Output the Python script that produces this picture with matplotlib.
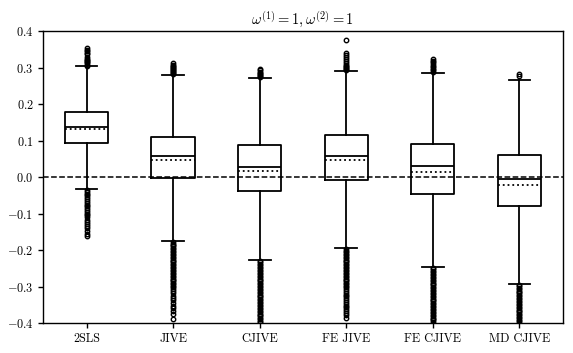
import matplotlib
matplotlib.use("Agg")
import matplotlib.pyplot as plt
from matplotlib.ticker import FuncFormatter

plt.rcParams['font.family'] = ['cmr10', 'DejaVu Sans']
plt.rcParams['mathtext.fontset'] = 'cm'
plt.rcParams['axes.formatter.use_mathtext'] = True
plt.rcParams['axes.unicode_minus'] = False

categories = ["2SLS", "JIVE", "CJIVE", "FE JIVE", "FE CJIVE", "MD CJIVE"]
medians = [0.137, 0.058, 0.028, 0.058, 0.030, -0.004]
means = [0.133, 0.048, 0.016, 0.047, 0.015, -0.022]
q1 = [0.093, -0.002, -0.039, -0.009, -0.045, -0.079]
q3 = [0.178, 0.110, 0.087, 0.115, 0.090, 0.061]
whislo = [-0.033, -0.175, -0.228, -0.195, -0.246, -0.292]
whishi = [0.304, 0.280, 0.273, 0.291, 0.286, 0.268]

fliers_2sls = [0.306, 0.309, 0.312, 0.315, 0.318, 0.321, 0.324, 0.330, 0.337, 0.342, 0.346, 0.350, 0.355,
               -0.035, -0.040, -0.045, -0.050, -0.055, -0.060, -0.065, -0.070, -0.075, -0.080, -0.085,
               -0.090, -0.095, -0.100, -0.105, -0.110, -0.117, -0.122, -0.128, -0.135, -0.140, -0.148,
               -0.155, -0.162]
fliers_jive = [0.282, 0.285, 0.288, 0.291, 0.294, 0.297, 0.300, 0.303, 0.306, 0.309, 0.313,
               -0.178, -0.182, -0.186, -0.190, -0.194, -0.198, -0.202, -0.206, -0.210, -0.214, -0.218,
               -0.222, -0.226, -0.230, -0.234, -0.238, -0.242, -0.246, -0.250, -0.254, -0.258, -0.262,
               -0.266, -0.270, -0.274, -0.278, -0.282, -0.286, -0.290, -0.294, -0.298, -0.302, -0.306,
               -0.312, -0.318, -0.325, -0.332, -0.338, -0.345, -0.352, -0.360, -0.368, -0.375, -0.390]
fliers_cjive = [0.275, 0.278, 0.281, 0.284, 0.287, 0.290, 0.294, 0.298,
                -0.230, -0.234, -0.238, -0.242, -0.246, -0.250, -0.254, -0.258, -0.262, -0.266, -0.270,
                -0.274, -0.278, -0.282, -0.286, -0.290, -0.294, -0.298, -0.302, -0.306, -0.310, -0.314,
                -0.318, -0.322, -0.326, -0.330, -0.334, -0.338, -0.342, -0.346, -0.350, -0.354, -0.358,
                -0.362, -0.366, -0.370, -0.374, -0.378, -0.382, -0.386, -0.390, -0.394, -0.398, -0.405,
                -0.412, -0.420]
fliers_fejive = [0.294, 0.297, 0.300, 0.303, 0.306, 0.309, 0.313, 0.318, 0.324, 0.330, 0.336, 0.342, 0.377,
                 -0.198, -0.202, -0.206, -0.210, -0.214, -0.218, -0.222, -0.226, -0.230, -0.234, -0.238,
                 -0.242, -0.246, -0.250, -0.254, -0.258, -0.262, -0.266, -0.270, -0.274, -0.278, -0.282,
                 -0.286, -0.290, -0.294, -0.298, -0.302, -0.307, -0.312, -0.317, -0.322, -0.327, -0.332,
                 -0.337, -0.342, -0.347, -0.352, -0.357, -0.362, -0.367, -0.372, -0.378, -0.385]
fliers_fecjive = [0.289, 0.293, 0.297, 0.301, 0.305, 0.310, 0.315, 0.320, 0.325,
                  -0.249, -0.253, -0.257, -0.261, -0.265, -0.269, -0.273, -0.277, -0.281, -0.285, -0.289,
                  -0.293, -0.297, -0.301, -0.305, -0.309, -0.313, -0.317, -0.321, -0.325, -0.329, -0.333,
                  -0.337, -0.341, -0.345, -0.349, -0.353, -0.357, -0.361, -0.365, -0.369, -0.373, -0.377,
                  -0.381, -0.385, -0.389, -0.393, -0.397, -0.402, -0.410, -0.420]
fliers_mdcjive = [0.278, 0.282,
                  -0.295, -0.299, -0.303, -0.307, -0.311, -0.315, -0.319, -0.323, -0.327, -0.331, -0.335,
                  -0.339, -0.343, -0.347, -0.351, -0.355, -0.359, -0.363, -0.367, -0.371, -0.375, -0.379,
                  -0.383, -0.387, -0.391, -0.395, -0.399, -0.405, -0.412, -0.420]
fliers = [fliers_2sls, fliers_jive, fliers_cjive, fliers_fejive, fliers_fecjive, fliers_mdcjive]

yticks = [-0.4, -0.3, -0.2, -0.1, 0.0, 0.1, 0.2, 0.3, 0.4]
title = r"$\omega^{(1)} = 1, \omega^{(2)} = 1$"

stats = []
for i, name in enumerate(categories):
    stats.append(dict(label=name, med=medians[i], mean=means[i], q1=q1[i], q3=q3[i],
                      whislo=whislo[i], whishi=whishi[i], fliers=fliers[i]))

fig = plt.figure(figsize=(5.73, 3.53), dpi=100)
ax = fig.add_axes([0.0755, 0.085, 0.9065, 0.826])

lw = 1.3
ax.bxp(stats, positions=range(1, len(categories) + 1), widths=0.5, capwidths=0.25,
       showmeans=True, meanline=True,
       boxprops=dict(color='black', linewidth=lw),
       whiskerprops=dict(color='black', linewidth=lw),
       capprops=dict(color='black', linewidth=lw),
       medianprops=dict(color='black', linewidth=lw),
       meanprops=dict(color='black', linewidth=lw, linestyle=':'),
       flierprops=dict(marker='o', markersize=3.2, markerfacecolor='none',
                       markeredgecolor='black', markeredgewidth=1.0))

ax.axhline(0.0, color='black', linestyle='--', linewidth=1.1, zorder=0.5)
ax.set_xlim(0.5, len(categories) + 0.5)
ax.set_ylim(-0.4, 0.4)
ax.set_yticks(yticks)
ax.yaxis.set_major_formatter(FuncFormatter(lambda v, p: f"${v:.1f}$"))
ax.tick_params(labelsize=8.8, width=1.0)
for s in ax.spines.values():
    s.set_linewidth(1.0)
ax.set_title(title, fontsize=10.5, pad=5)

fig.savefig("out.png", dpi=100)
